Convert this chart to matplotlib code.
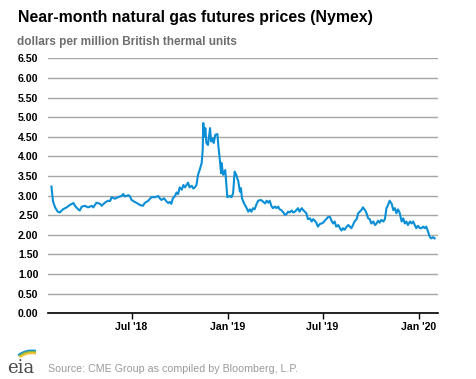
import numpy as np
import pandas as pd
import matplotlib
matplotlib.use("Agg")
import matplotlib.pyplot as plt
import matplotlib.dates as mdates
from matplotlib.patches import Arc

# Data: days since 2018-01-01 and near-month price ($/MMBtu)
base_date = "2018-01-01"
day_offsets = [
    28, 31, 35, 40, 44, 50, 57, 63, 70, 73, 79, 82, 86, 92, 98, 105, 108, 114, 121, 124,
    130, 136, 140, 143, 149, 155, 162, 165, 168, 175, 178, 181, 187, 194, 197, 203, 206, 213,
    219, 226, 232, 235, 238, 243, 248, 251, 254, 257, 260, 264, 267, 270, 273, 277, 280, 283,
    289, 292, 296, 299, 302, 305, 308, 311, 315, 317, 318, 320, 322, 324, 327, 331, 333, 336,
    338, 341, 345, 347, 350, 352, 353, 356, 360, 362, 364, 369, 372, 375, 378, 381, 385, 388,
    390, 392, 396, 401, 404, 407, 410, 413, 416, 420, 423, 428, 432, 436, 439, 442, 445, 448,
    451, 455, 458, 461, 464, 467, 471, 474, 477, 480, 483, 487, 490, 493, 496, 499, 502, 506,
    509, 512, 515, 518, 522, 525, 528, 531, 534, 537, 541, 544, 547, 550, 553, 556, 560, 563,
    566, 569, 572, 576, 579, 582, 585, 588, 592, 595, 598, 601, 604, 607, 611, 614, 617, 620,
    623, 627, 630, 633, 636, 639, 643, 646, 649, 652, 655, 658, 662, 665, 668, 671, 674, 678,
    681, 684, 687, 690, 693, 697, 700, 703, 706, 709, 713, 716, 719, 722, 725, 728, 732, 735,
    738, 741, 744, 748, 751, 754, 757, 760,
]
prices = [
    3.23, 2.85, 2.70, 2.59, 2.57, 2.65, 2.70, 2.76, 2.81, 2.74, 2.65, 2.62, 2.72, 2.74, 2.70, 2.74, 2.70, 2.82, 2.79, 2.74,
    2.82, 2.87, 2.86, 2.96, 2.92, 2.96, 2.99, 3.04, 2.98, 3.01, 2.98, 2.89, 2.84, 2.79, 2.76, 2.74, 2.81, 2.87,
    2.96, 2.96, 2.99, 2.93, 2.89, 2.93, 2.85, 2.81, 2.84, 2.79, 2.93, 2.99, 3.08, 3.04, 3.21, 3.15, 3.27, 3.21,
    3.33, 3.21, 3.25, 3.18, 3.21, 3.27, 3.53, 3.65, 3.83, 4.17, 4.85, 4.50, 4.72, 4.34, 4.29, 4.72, 4.38, 4.46,
    4.34, 4.55, 4.57, 4.25, 3.87, 3.57, 3.83, 3.53, 3.65, 3.32, 2.96, 2.99, 2.96, 3.06, 3.61, 3.53, 3.36, 3.10,
    3.19, 2.93, 2.80, 2.68, 2.59, 2.65, 2.59, 2.68, 2.65, 2.79, 2.87, 2.89, 2.85, 2.80, 2.87, 2.82, 2.87, 2.74,
    2.68, 2.72, 2.68, 2.72, 2.65, 2.63, 2.57, 2.51, 2.53, 2.59, 2.57, 2.62, 2.57, 2.59, 2.63, 2.68, 2.59, 2.68,
    2.63, 2.59, 2.55, 2.40, 2.42, 2.34, 2.40, 2.36, 2.31, 2.21, 2.28, 2.29, 2.31, 2.36, 2.40, 2.45, 2.46, 2.36,
    2.29, 2.34, 2.21, 2.25, 2.17, 2.11, 2.17, 2.13, 2.21, 2.25, 2.21, 2.17, 2.25, 2.34, 2.40, 2.55, 2.59, 2.63,
    2.70, 2.63, 2.55, 2.42, 2.40, 2.29, 2.34, 2.25, 2.29, 2.36, 2.31, 2.38, 2.34, 2.40, 2.68, 2.76, 2.87, 2.79,
    2.63, 2.68, 2.55, 2.65, 2.57, 2.34, 2.42, 2.29, 2.34, 2.25, 2.34, 2.29, 2.34, 2.25, 2.17, 2.23, 2.17, 2.17,
    2.21, 2.17, 2.21, 2.06, 1.94, 1.91, 1.94, 1.91,
]
tick_dates = ["2018-07-01", "2019-01-01", "2019-07-01", "2020-01-01"]
tick_labels = ["Jul '18", "Jan '19", "Jul '19", "Jan '20"]
y_ticks = np.arange(0, 6.51, 0.5)

title = "Near-month natural gas futures prices (Nymex)"
subtitle = "dollars per million British thermal units"
source = "Source: CME Group as compiled by Bloomberg, L.P."

dates = pd.to_datetime(base_date) + pd.to_timedelta(day_offsets, unit="D")

plt.rcParams['font.family'] = ['Liberation Sans', 'DejaVu Sans']

fig = plt.figure(figsize=(4.77, 3.79), dpi=100)
ax = fig.add_axes([48.3 / 477, 1 - 313.3 / 379, (438.3 - 48.3) / 477, (313.3 - 58.3) / 379])

ax.plot(dates, prices, color="#0a8fd6", linewidth=1.5, solid_joinstyle="round")

ax.set_ylim(0, 6.5)
ax.set_xlim(pd.Timestamp("2018-01-23"), pd.Timestamp("2020-02-07"))
ax.set_yticks(y_ticks)
ax.set_yticklabels([f"{v:.2f}" for v in y_ticks])
ax.set_xticks(pd.to_datetime(tick_dates))
ax.set_xticklabels(tick_labels)

ax.grid(axis="y", color="#a6a6a6", linewidth=1.0)
ax.set_axisbelow(True)
for s in ["left", "right", "top"]:
    ax.spines[s].set_visible(False)
ax.spines["bottom"].set_color("black")
ax.spines["bottom"].set_linewidth(1.2)
ax.tick_params(axis="y", length=0, pad=7, labelsize=7.6, labelcolor="black")
ax.tick_params(axis="x", length=4, width=1, direction="out", pad=2, labelsize=7.6, labelcolor="black")
for lab in ax.get_xticklabels() + ax.get_yticklabels():
    lab.set_fontweight("bold")

fig.text(18 / 477, 1 - 22 / 379, title, fontsize=11.4, fontweight="bold", color="black",
         ha="left", va="baseline")
fig.text(17 / 477, 1 - 45 / 379, subtitle, fontsize=8.5, fontweight="bold", color="#6e6e6e",
         ha="left", va="baseline")
fig.text(48 / 477, 1 - 372 / 379, source, fontsize=7.7, color="#9a9a9a",
         ha="left", va="baseline")

# eia logo
fig.text(7 / 477, 1 - 373 / 379, "eia", fontsize=13, family="DejaVu Serif", color="#4a4a4a",
         ha="left", va="baseline")
lax = fig.add_axes([10 / 477, 1 - 361 / 379, 26 / 477, 13 / 379])
lax.set_xlim(0, 26)
lax.set_ylim(0, 13)
lax.axis("off")
for r, c in [(22.5, "#1f8fd0"), (21.2, "#7ab648"), (19.9, "#f2c12e")]:
    lax.add_patch(Arc((22, -12), 2 * r, 2 * r, theta1=78, theta2=128, color=c, linewidth=1.5))

fig.savefig("out.png", dpi=100)
